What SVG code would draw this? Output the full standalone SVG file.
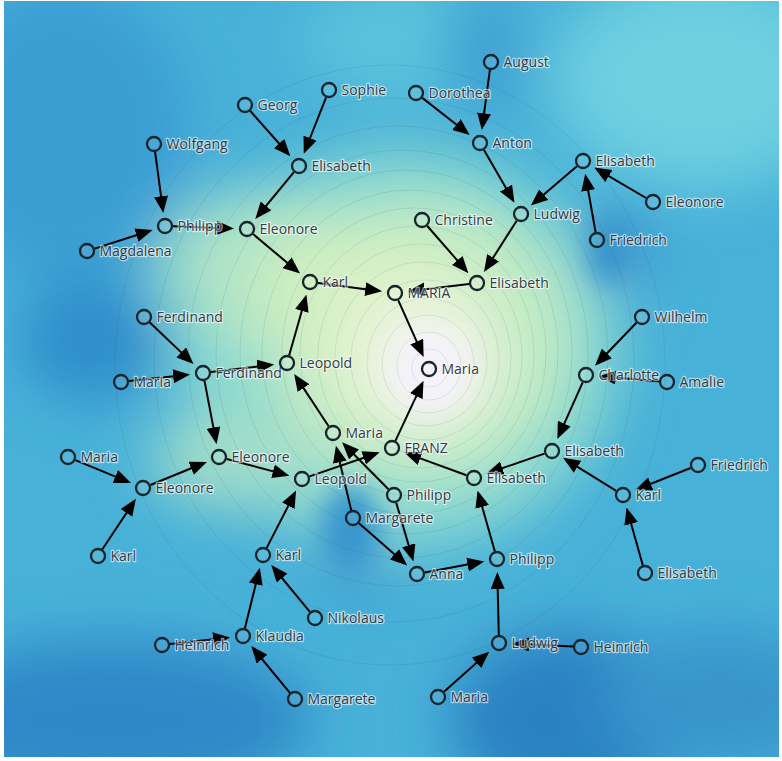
<svg xmlns="http://www.w3.org/2000/svg" width="782" height="761" viewBox="0 0 782 761">
<defs>
<filter id="blur" filterUnits="userSpaceOnUse" x="-200" y="-200" width="1200" height="1200"><feGaussianBlur stdDeviation="28"/></filter>
<filter id="blur2" filterUnits="userSpaceOnUse" x="-200" y="-200" width="1200" height="1200"><feGaussianBlur stdDeviation="14"/></filter>
<clipPath id="clip"><rect x="4" y="1" width="775" height="756"/></clipPath>
<marker id="arr" markerUnits="userSpaceOnUse" markerWidth="17" markerHeight="14" refX="8" refY="7" orient="auto"><path d="M0,0 L17,7 L0,14 z" fill="#000"/></marker>
</defs>
<style>
.edge{stroke:#000;stroke-width:2;fill:none;marker-end:url(#arr)}
.node circle{fill:#ffffff;fill-opacity:0.08;stroke:#17252b;stroke-width:2.3}
.node text{font-family:"Open Sans","Noto Sans",sans-serif;font-size:14px;fill:#323c47;stroke:#ffffff;stroke-opacity:0.6;stroke-width:2.4;paint-order:stroke;stroke-linejoin:round}
.ct{fill:none;stroke:#1f3f45;stroke-opacity:0.15;stroke-width:0.7}
</style>
<rect width="782" height="761" fill="#ffffff"/>
<g clip-path="url(#clip)">
<rect x="4" y="1" width="775" height="756" fill="#48b1d8"/>
<g filter="url(#blur)">
<ellipse cx="60" cy="130" rx="130" ry="150" fill="#3a9ed3"/>
<ellipse cx="700" cy="80" rx="150" ry="110" fill="#6dcfe0"/>
<ellipse cx="420" cy="40" rx="120" ry="60" fill="#5cc2dc"/>
<ellipse cx="485" cy="50" rx="40" ry="60" fill="#3d9fd2"/>
<ellipse cx="90" cy="340" rx="70" ry="60" fill="#2e8dcb"/>
<ellipse cx="110" cy="720" rx="200" ry="80" fill="#2d88c7"/>
<ellipse cx="570" cy="720" rx="120" ry="90" fill="#2981c2"/>
<ellipse cx="720" cy="700" rx="120" ry="70" fill="#3795cc"/>
<ellipse cx="620" cy="250" rx="35" ry="50" fill="#3a9ad1"/>
<ellipse cx="360" cy="540" rx="45" ry="55" fill="#3a9bd2"/>
<ellipse cx="400" cy="350" rx="220" ry="200" fill="#8ad9d0"/>
<ellipse cx="260" cy="270" rx="100" ry="80" fill="#ade3c8"/>
<ellipse cx="240" cy="460" rx="90" ry="50" fill="#a2ddca"/>
<ellipse cx="420" cy="340" rx="150" ry="140" fill="#c4ecc2"/>
<ellipse cx="330" cy="290" rx="80" ry="70" fill="#cdeec0"/>
<ellipse cx="400" cy="340" rx="90" ry="90" fill="#dcf2c8"/>
<ellipse cx="430" cy="365" rx="70" ry="70" fill="#eef4e4"/>
</g>
<g filter="url(#blur2)">
<ellipse cx="430" cy="370" rx="42" ry="42" fill="#f5f2fb"/>
<ellipse cx="350" cy="530" rx="30" ry="45" fill="#3796cf"/>
<ellipse cx="610" cy="250" rx="20" ry="35" fill="#3592cc"/>
</g>
<g>
<ellipse class="ct" cx="430" cy="368" rx="18" ry="19"/>
<ellipse class="ct" cx="429" cy="366" rx="32" ry="34"/>
<ellipse class="ct" cx="428" cy="364" rx="46" ry="49"/>
<ellipse class="ct" cx="427" cy="362" rx="60" ry="64"/>
<ellipse class="ct" cx="425" cy="360" rx="74" ry="80"/>
<ellipse class="ct" cx="423" cy="358" rx="88" ry="96"/>
<ellipse class="ct" cx="420" cy="356" rx="102" ry="112"/>
<ellipse class="ct" cx="417" cy="354" rx="117" ry="128"/>
<ellipse class="ct" cx="414" cy="352" rx="132" ry="144"/>
<ellipse class="ct" cx="410" cy="352" rx="148" ry="162"/>
<ellipse class="ct" cx="406" cy="352" rx="166" ry="182"/>
<ellipse class="ct" cx="402" cy="354" rx="186" ry="204"/>
<ellipse class="ct" cx="398" cy="356" rx="210" ry="230"/>
<ellipse class="ct" cx="394" cy="360" rx="240" ry="262"/>
<ellipse class="ct" cx="390" cy="365" rx="275" ry="300"/>
</g>
</g>
<g id="connectors">
<line class="edge" x1="489.9" y1="69.9" x2="483.0" y2="121.2"/>
<line class="edge" x1="422.3" y1="97.9" x2="462.7" y2="129.5"/>
<line class="edge" x1="484.0" y1="149.9" x2="510.0" y2="195.0"/>
<line class="edge" x1="576.9" y1="166.2" x2="537.7" y2="199.7"/>
<line class="edge" x1="646.1" y1="198.0" x2="602.0" y2="172.1"/>
<line class="edge" x1="595.6" y1="232.1" x2="586.8" y2="182.7"/>
<line class="edge" x1="516.7" y1="220.7" x2="488.8" y2="264.5"/>
<line class="edge" x1="427.3" y1="226.0" x2="462.5" y2="266.4"/>
<line class="edge" x1="469.1" y1="284.0" x2="416.8" y2="290.3"/>
<line class="edge" x1="317.9" y1="283.0" x2="373.2" y2="290.2"/>
<line class="edge" x1="398.3" y1="300.3" x2="420.0" y2="348.9"/>
<line class="edge" x1="250.3" y1="111.0" x2="284.4" y2="149.5"/>
<line class="edge" x1="326.1" y1="97.4" x2="307.1" y2="145.5"/>
<line class="edge" x1="293.9" y1="172.2" x2="261.0" y2="212.0"/>
<line class="edge" x1="155.1" y1="151.9" x2="162.1" y2="204.2"/>
<line class="edge" x1="94.6" y1="248.6" x2="144.0" y2="232.7"/>
<line class="edge" x1="173.0" y1="226.3" x2="225.0" y2="228.2"/>
<line class="edge" x1="253.1" y1="234.1" x2="293.2" y2="267.8"/>
<line class="edge" x1="289.2" y1="355.3" x2="304.0" y2="303.2"/>
<line class="edge" x1="149.8" y1="322.5" x2="187.0" y2="357.9"/>
<line class="edge" x1="129.0" y1="381.1" x2="181.1" y2="375.4"/>
<line class="edge" x1="210.9" y1="372.1" x2="265.2" y2="365.6"/>
<line class="edge" x1="204.5" y1="380.9" x2="214.9" y2="435.4"/>
<line class="edge" x1="328.6" y1="426.3" x2="299.1" y2="381.4"/>
<line class="edge" x1="75.4" y1="460.1" x2="122.7" y2="479.6"/>
<line class="edge" x1="102.4" y1="549.3" x2="130.9" y2="506.3"/>
<line class="edge" x1="150.4" y1="485.0" x2="198.6" y2="465.3"/>
<line class="edge" x1="226.7" y1="459.0" x2="280.7" y2="473.4"/>
<line class="edge" x1="309.6" y1="476.4" x2="371.2" y2="455.2"/>
<line class="edge" x1="266.7" y1="547.9" x2="292.0" y2="498.6"/>
<line class="edge" x1="309.9" y1="611.8" x2="277.0" y2="572.0"/>
<line class="edge" x1="244.9" y1="628.2" x2="257.7" y2="576.4"/>
<line class="edge" x1="170.0" y1="644.1" x2="221.1" y2="638.4"/>
<line class="edge" x1="289.9" y1="692.8" x2="257.0" y2="653.0"/>
<line class="edge" x1="395.4" y1="440.8" x2="419.7" y2="388.9"/>
<line class="edge" x1="466.5" y1="475.3" x2="412.7" y2="455.6"/>
<line class="edge" x1="494.8" y1="551.3" x2="480.0" y2="499.2"/>
<line class="edge" x1="424.9" y1="572.5" x2="475.4" y2="563.1"/>
<line class="edge" x1="498.8" y1="635.0" x2="497.5" y2="581.0"/>
<line class="edge" x1="444.0" y1="691.7" x2="482.5" y2="657.6"/>
<line class="edge" x1="573.0" y1="646.6" x2="521.0" y2="644.1"/>
<line class="edge" x1="396.2" y1="502.7" x2="410.9" y2="552.9"/>
<line class="edge" x1="359.0" y1="523.3" x2="400.4" y2="559.5"/>
<line class="edge" x1="351.2" y1="510.2" x2="338.0" y2="454.4"/>
<line class="edge" x1="388.4" y1="489.3" x2="348.4" y2="448.7"/>
<line class="edge" x1="544.4" y1="453.6" x2="494.8" y2="470.8"/>
<line class="edge" x1="582.7" y1="382.3" x2="561.0" y2="430.9"/>
<line class="edge" x1="636.4" y1="322.8" x2="601.3" y2="359.2"/>
<line class="edge" x1="659.0" y1="381.3" x2="607.9" y2="376.9"/>
<line class="edge" x1="616.2" y1="490.8" x2="570.7" y2="462.6"/>
<line class="edge" x1="690.6" y1="468.0" x2="643.4" y2="486.8"/>
<line class="edge" x1="642.8" y1="565.3" x2="629.0" y2="516.2"/>
</g>
<g id="n1" class="node"><circle cx="491" cy="62" r="7"/><text x="503.5" y="67">August</text></g>
<g id="n2" class="node"><circle cx="416" cy="93" r="7"/><text x="428.5" y="98">Dorothea</text></g>
<g id="n3" class="node"><circle cx="480" cy="143" r="7"/><text x="492.5" y="148">Anton</text></g>
<g id="n4" class="node"><circle cx="583" cy="161" r="7"/><text x="595.5" y="166">Elisabeth</text></g>
<g id="n5" class="node"><circle cx="653" cy="202" r="7"/><text x="665.5" y="207">Eleonore</text></g>
<g id="n6" class="node"><circle cx="597" cy="240" r="7"/><text x="609.5" y="245">Friedrich</text></g>
<g id="n7" class="node"><circle cx="521" cy="214" r="7"/><text x="533.5" y="219">Ludwig</text></g>
<g id="n8" class="node"><circle cx="422" cy="220" r="7"/><text x="434.5" y="225">Christine</text></g>
<g id="n9" class="node"><circle cx="477" cy="283" r="7"/><text x="489.5" y="288">Elisabeth</text></g>
<g id="n10" class="node"><circle cx="395" cy="293" r="7"/><text x="407.5" y="298">MARIA</text></g>
<g id="n11" class="node"><circle cx="429" cy="369" r="7"/><text x="441.5" y="374">Maria</text></g>
<g id="n12" class="node"><circle cx="245" cy="105" r="7"/><text x="257.5" y="110">Georg</text></g>
<g id="n13" class="node"><circle cx="329" cy="90" r="7"/><text x="341.5" y="95">Sophie</text></g>
<g id="n14" class="node"><circle cx="299" cy="166" r="7"/><text x="311.5" y="171">Elisabeth</text></g>
<g id="n15" class="node"><circle cx="154" cy="144" r="7"/><text x="166.5" y="149">Wolfgang</text></g>
<g id="n16" class="node"><circle cx="165" cy="226" r="7"/><text x="177.5" y="231">Philipp</text></g>
<g id="n17" class="node"><circle cx="87" cy="251" r="7"/><text x="99.5" y="256">Magdalena</text></g>
<g id="n18" class="node"><circle cx="247" cy="229" r="7"/><text x="259.5" y="234">Eleonore</text></g>
<g id="n19" class="node"><circle cx="310" cy="282" r="7"/><text x="322.5" y="287">Karl</text></g>
<g id="n20" class="node"><circle cx="144" cy="317" r="7"/><text x="156.5" y="322">Ferdinand</text></g>
<g id="n21" class="node"><circle cx="203" cy="373" r="7"/><text x="215.5" y="378">Ferdinand</text></g>
<g id="n22" class="node"><circle cx="121" cy="382" r="7"/><text x="133.5" y="387">Maria</text></g>
<g id="n23" class="node"><circle cx="287" cy="363" r="7"/><text x="299.5" y="368">Leopold</text></g>
<g id="n24" class="node"><circle cx="642" cy="317" r="7"/><text x="654.5" y="322">Wilhelm</text></g>
<g id="n25" class="node"><circle cx="586" cy="375" r="7"/><text x="598.5" y="380">Charlotte</text></g>
<g id="n26" class="node"><circle cx="667" cy="382" r="7"/><text x="679.5" y="387">Amalie</text></g>
<g id="n27" class="node"><circle cx="552" cy="451" r="7"/><text x="564.5" y="456">Elisabeth</text></g>
<g id="n28" class="node"><circle cx="698" cy="465" r="7"/><text x="710.5" y="470">Friedrich</text></g>
<g id="n29" class="node"><circle cx="623" cy="495" r="7"/><text x="635.5" y="500">Karl</text></g>
<g id="n30" class="node"><circle cx="645" cy="573" r="7"/><text x="657.5" y="578">Elisabeth</text></g>
<g id="n31" class="node"><circle cx="333" cy="433" r="7"/><text x="345.5" y="438">Maria</text></g>
<g id="n32" class="node"><circle cx="392" cy="448" r="7"/><text x="404.5" y="453">FRANZ</text></g>
<g id="n33" class="node"><circle cx="302" cy="479" r="7"/><text x="314.5" y="484">Leopold</text></g>
<g id="n34" class="node"><circle cx="394" cy="495" r="7"/><text x="406.5" y="500">Philipp</text></g>
<g id="n35" class="node"><circle cx="353" cy="518" r="7"/><text x="365.5" y="523">Margarete</text></g>
<g id="n36" class="node"><circle cx="417" cy="574" r="7"/><text x="429.5" y="579">Anna</text></g>
<g id="n37" class="node"><circle cx="474" cy="478" r="7"/><text x="486.5" y="483">Elisabeth</text></g>
<g id="n38" class="node"><circle cx="497" cy="559" r="7"/><text x="509.5" y="564">Philipp</text></g>
<g id="n39" class="node"><circle cx="499" cy="643" r="7"/><text x="511.5" y="648">Ludwig</text></g>
<g id="n40" class="node"><circle cx="581" cy="647" r="7"/><text x="593.5" y="652">Heinrich</text></g>
<g id="n41" class="node"><circle cx="438" cy="697" r="7"/><text x="450.5" y="702">Maria</text></g>
<g id="n42" class="node"><circle cx="68" cy="457" r="7"/><text x="80.5" y="462">Maria</text></g>
<g id="n43" class="node"><circle cx="143" cy="488" r="7"/><text x="155.5" y="493">Eleonore</text></g>
<g id="n44" class="node"><circle cx="98" cy="556" r="7"/><text x="110.5" y="561">Karl</text></g>
<g id="n45" class="node"><circle cx="219" cy="457" r="7"/><text x="231.5" y="462">Eleonore</text></g>
<g id="n46" class="node"><circle cx="263" cy="555" r="7"/><text x="275.5" y="560">Karl</text></g>
<g id="n47" class="node"><circle cx="315" cy="618" r="7"/><text x="327.5" y="623">Nikolaus</text></g>
<g id="n48" class="node"><circle cx="243" cy="636" r="7"/><text x="255.5" y="641">Klaudia</text></g>
<g id="n49" class="node"><circle cx="162" cy="645" r="7"/><text x="174.5" y="650">Heinrich</text></g>
<g id="n50" class="node"><circle cx="295" cy="699" r="7"/><text x="307.5" y="704">Margarete</text></g>
</svg>
